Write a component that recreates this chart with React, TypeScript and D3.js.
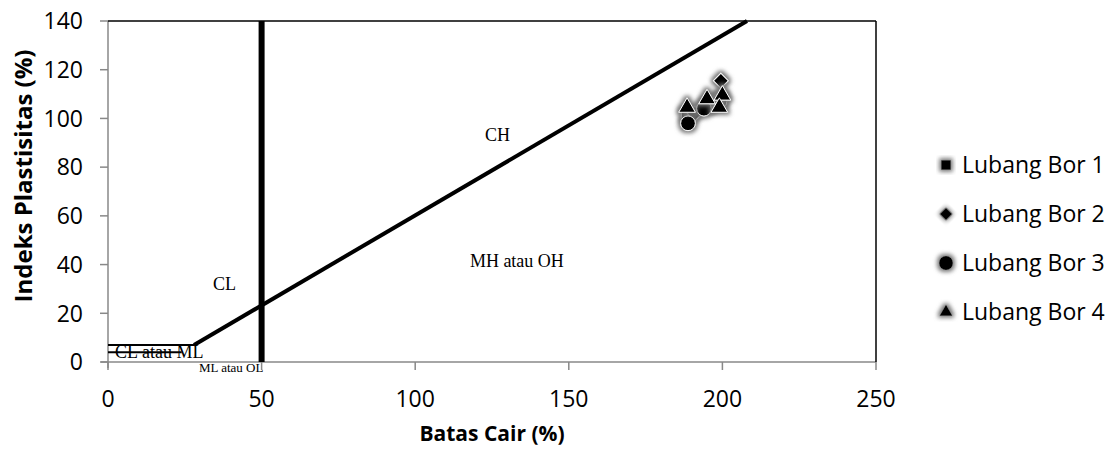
import React, { useEffect } from "react";
import * as d3 from "d3";

const xTicks = [0, 50, 100, 150, 200, 250];
const yTicks = [0, 20, 40, 60, 80, 100, 120, 140];

const seriesNames = ["Lubang Bor 1", "Lubang Bor 2", "Lubang Bor 3", "Lubang Bor 4"];
const seriesShapes = ["square", "diamond", "circle", "triangle"];

const bor1: [number, number][] = [[188.5, 101.5], [195.5, 105.5], [199.5, 108]];
const bor2: [number, number][] = [[199.5, 115.5], [191, 102], [197, 106]];
const bor3: [number, number][] = [[188.8, 98], [194, 104], [199, 107]];
const bor4: [number, number][] = [[188.5, 104.5], [195, 108], [200, 109.5], [199, 104.5]];
const seriesData = [bor1, bor2, bor3, bor4];

const aLine: [number, number][] = [[28, 7], [208, 140]];
const upperHLine: [number, number][] = [[0, 7], [28, 7]];
const lowerHLine: [number, number][] = [[0, 4], [24, 4]];
const uLine: [number, number][] = [[50, 0], [50, 140]];

const zoneLabels = [
  { text: "CH", x: 122.7, y: 90.7, size: 18 },
  { text: "MH atau OH", x: 117.8, y: 39, size: 18 },
  { text: "CL", x: 34.2, y: 29.6, size: 18 },
  { text: "CL atau ML", x: 2.3, y: 1.6, size: 18 },
  { text: "ML atau OL", x: 29.6, y: -4.1, size: 13 },
];

const W = 1110;
const H = 449;
const L = 108, R = 876, T = 21, B = 362;

function symbolPath(shape: string, size: number) {
  const t =
    shape === "square" ? d3.symbolSquare :
    shape === "diamond" ? d3.symbolSquare :
    shape === "circle" ? d3.symbolCircle : d3.symbolTriangle;
  return d3.symbol().type(t).size(size)() as string;
}

export default function App() {
  useEffect(() => {
    document.body.style.margin = "0";
  }, []);
  const x = d3.scaleLinear().domain([0, 250]).range([L, R]);
  const y = d3.scaleLinear().domain([0, 140]).range([B, T]);
  const line = d3.line<[number, number]>().x((d) => x(d[0])).y((d) => y(d[1]));
  const font = "'Open Sans', sans-serif";
  const serif = "'Liberation Serif', 'Times New Roman', serif";
  const markerSizes: Record<string, number> = { square: 130, diamond: 110, circle: 170, triangle: 120 };
  const legendSizes: Record<string, number> = { square: 90, diamond: 80, circle: 150, triangle: 70 };
  const rot = (s: string) => (s === "diamond" ? " rotate(45)" : "");
  return (
    <svg width={W} height={H} style={{ display: "block", background: "#fff" }}>
      <defs>
        <filter id="glow" x="-50%" y="-50%" width="200%" height="200%">
          <feMorphology in="SourceAlpha" operator="dilate" radius="1.5" result="d" />
          <feGaussianBlur in="d" stdDeviation="2" result="b" />
          <feFlood floodColor="#777" result="c" />
          <feComposite in="c" in2="b" operator="in" result="s" />
          <feMerge>
            <feMergeNode in="s" />
            <feMergeNode in="SourceGraphic" />
          </feMerge>
        </filter>
      </defs>
      {/* axes */}
      <line x1={L} x2={L} y1={T} y2={B + 6} stroke="#888" strokeWidth={1.5} />
      <line x1={L - 7} x2={R} y1={B} y2={B} stroke="#888" strokeWidth={1.5} />
      {yTicks.map((t) => (
        <g key={"y" + t}>
          <line x1={L - 8} x2={L} y1={y(t)} y2={y(t)} stroke="#888" strokeWidth={1.5} />
          <text x={83} y={y(t)} dy="0.36em" textAnchor="end" fontFamily={font} fontSize={23} fill="#000">{t}</text>
        </g>
      ))}
      {xTicks.map((t) => (
        <g key={"x" + t}>
          <line x1={x(t)} x2={x(t)} y1={B} y2={B + 8} stroke="#888" strokeWidth={1.5} />
          <text x={x(t)} y={407} textAnchor="middle" fontFamily={font} fontSize={23} fill="#000">{t}</text>
        </g>
      ))}
      {/* plot border top/right */}
      <line x1={L} x2={R} y1={T} y2={T} stroke="#000" strokeWidth={1.5} />
      <line x1={R} x2={R} y1={T} y2={B} stroke="#000" strokeWidth={1.5} />
      {/* chart lines */}
      <path d={line(upperHLine) as string} stroke="#000" strokeWidth={2} fill="none" />
      <path d={line(lowerHLine) as string} stroke="#000" strokeWidth={2} fill="none" />
      <path d={line(aLine) as string} stroke="#000" strokeWidth={4} fill="none" />
      <path d={line(uLine) as string} stroke="#000" strokeWidth={6} fill="none" />
      {zoneLabels.map((z) => (
        <text key={z.text} x={x(z.x)} y={y(z.y)} fontFamily={serif} fontSize={z.size} fill="#000">{z.text}</text>
      ))}
      {/* data */}
      {seriesData.map((s, i) => (
        <g key={"s" + i} filter="url(#glow)">
          {s.map((d, j) => (
            <path key={j} d={symbolPath(seriesShapes[i], markerSizes[seriesShapes[i]])}
              transform={`translate(${x(d[0])},${y(d[1])})${rot(seriesShapes[i])}`} fill="#000" stroke="#fff" strokeWidth={1} />
          ))}
        </g>
      ))}
      {/* axis titles */}
      <text x={(L + R) / 2} y={441} textAnchor="middle" fontFamily={font} fontWeight="bold" fontSize={21} fill="#000">Batas Cair (%)</text>
      <text transform={`translate(22.5,176) rotate(-90)`} textAnchor="middle" dominantBaseline="central" fontFamily={font} fontWeight="bold" fontSize={24} fill="#000">Indeks Plastisitas (%)</text>
      {/* legend */}
      {seriesNames.map((n, i) => (
        <g key={n} transform={`translate(946,${165 + i * 49})`}>
          <path d={symbolPath(seriesShapes[i], legendSizes[seriesShapes[i]])} transform={rot(seriesShapes[i])} fill="#000" filter="url(#glow)" />
          <text x={16} y={0} dy="0.36em" fontFamily={font} fontSize={23} fill="#000">{n}</text>
        </g>
      ))}
    </svg>
  );
}
